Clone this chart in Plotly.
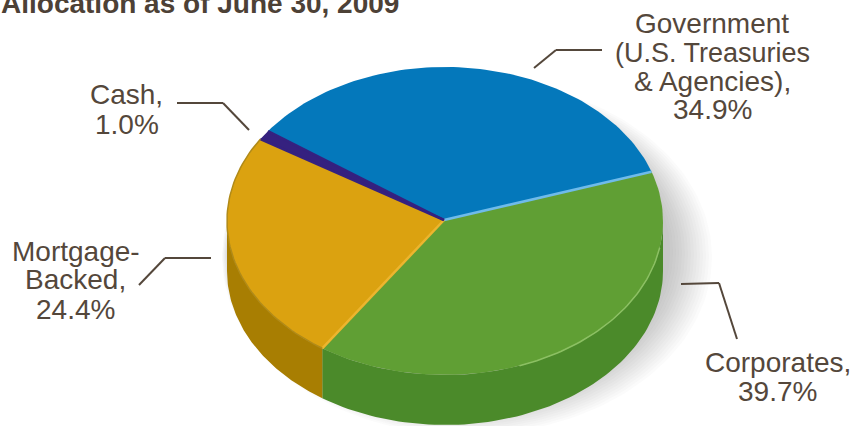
import numpy as np
import plotly.graph_objects as go

categories = ["Government", "Corporates", "Mortgage-Backed", "Cash"]
values = [34.9, 39.7, 24.4, 1.0]
top_colors = ["#0478BB", "#609F34", "#DBA210", "#35217F"]
wall_colors = ["#0478BB", "#4B8A2A", "#A87E02", "#35217F"]
seam_colors = ["#6FBBEA", "#EDB52E", "#35217F", "#35217F"]
label_lines = [
    ["Government", "(U.S. Treasuries", "&amp; Agencies),", "34.9%"],
    ["Corporates,", "39.7%"],
    ["Mortgage-", "Backed,", "24.4%"],
    ["Cash,", "1.0%"],
]
label_x = [712, 777.5, 75.5, 126.5]
label_baselines = [[32, 62, 90, 118], [371, 400], [260, 288, 318], [103, 133]]
title_text = "Allocation as of June 30, 2009"

CX, CY, RX, RY, DEPTH = 445.0, 221.0, 218.0, 154.0, 50.0
VX, VY = 444.0, 220.0
START = 144.3
INK = "#54473B"


def ell(deg, dy=0.0, cx=CX, cy=CY, rx=RX, ry=RY):
    t = np.radians(deg)
    return cx + rx * np.cos(t), cy + dy - ry * np.sin(t)


fig = go.Figure()


def poly(x, y, color, name):
    fig.add_trace(go.Scatter(x=list(x), y=list(y), mode="lines", fill="toself", fillcolor=color,
                             line=dict(width=0, color=color), hoverinfo="skip", name=name))


# soft shadow, stronger and wider towards the right
tt = np.linspace(0, 360, 200)
for g in range(30, 0, -2):
    x, y = ell(tt, cx=CX + 4 + g * 0.6, cy=CY + 30 + g * 0.2, rx=RX + g * 0.9, ry=RY + g * 0.8)
    poly(x, y, "rgba(90,80,100,0.025)", "shadow")

# angular spans from the values
edges = START - np.cumsum([0] + [v * 3.6 for v in values])

# side walls
for i, cat in enumerate(categories):
    a0, a1 = edges[i], edges[i + 1]
    lo, hi = max(a1, -180.0), min(a0, 0.0)
    if hi <= lo:
        continue
    t = np.linspace(hi, lo, 80)
    xt, yt = ell(t)
    xb, yb = ell(t, dy=DEPTH)
    poly(np.r_[xt, xb[::-1]], np.r_[yt, yb[::-1]], wall_colors[i], cat + " side")

# top faces
for i, cat in enumerate(categories):
    t = np.linspace(edges[i], edges[i + 1], 90)
    x, y = ell(t)
    poly(np.r_[VX, x], np.r_[VY, y], top_colors[i], cat)

# seams between faces
for i in range(len(categories)):
    x, y = ell(edges[i + 1])
    fig.add_trace(go.Scatter(x=[VX, x], y=[VY, y], mode="lines", hoverinfo="skip",
                             line=dict(color=seam_colors[i], width=2.5)))

# light rim along the front edge of the green face
t = np.linspace(-10, -70, 50)
x, y = ell(t)
fig.add_trace(go.Scatter(x=x, y=y, mode="lines", hoverinfo="skip", line=dict(color="#8CC063", width=1.5)))
# darker rim on the gold face
t = np.linspace(edges[3], edges[2], 60)
x, y = ell(t)
fig.add_trace(go.Scatter(x=x, y=y, mode="lines", hoverinfo="skip", line=dict(color="#B08A18", width=1.5)))

leaders = [
    [(534, 68), (556, 50), (602, 50)],
    [(681, 284), (719, 283), (737, 339)],
    [(139, 285), (165, 258), (211, 258)],
    [(177, 103), (223, 103), (249, 130)],
]
shapes = []
for pts in leaders:
    for (x0, y0), (x1, y1) in zip(pts, pts[1:]):
        shapes.append(dict(type="line", x0=x0, y0=y0, x1=x1, y1=y1,
                           line=dict(color=INK, width=2)))

anns = []
for cx, lines, bases in zip(label_x, label_lines, label_baselines):
    for s, b in zip(lines, bases):
        size = 27 if "Treasuries" in s else 28
        anns.append(dict(x=cx, y=b - 9, text=s, showarrow=False, xanchor="center", yanchor="middle",
                         font=dict(family="Liberation Sans", size=size, color=INK)))
anns.append(dict(x=401, y=3, text="<b>" + title_text + "</b>", showarrow=False,
                 xanchor="right", yanchor="middle",
                 font=dict(family="Liberation Sans", size=28, color="#4D4136")))

fig.update_layout(
    width=852, height=426, margin=dict(l=0, r=0, t=0, b=0), showlegend=False,
    paper_bgcolor="white", plot_bgcolor="white",
    xaxis=dict(range=[0, 852], visible=False, fixedrange=True),
    yaxis=dict(range=[426, 0], visible=False, fixedrange=True),
    shapes=shapes, annotations=anns,
)
fig.write_html("out.html", config={"displayModeBar": False}, post_script="document.body.style.margin='0';")
